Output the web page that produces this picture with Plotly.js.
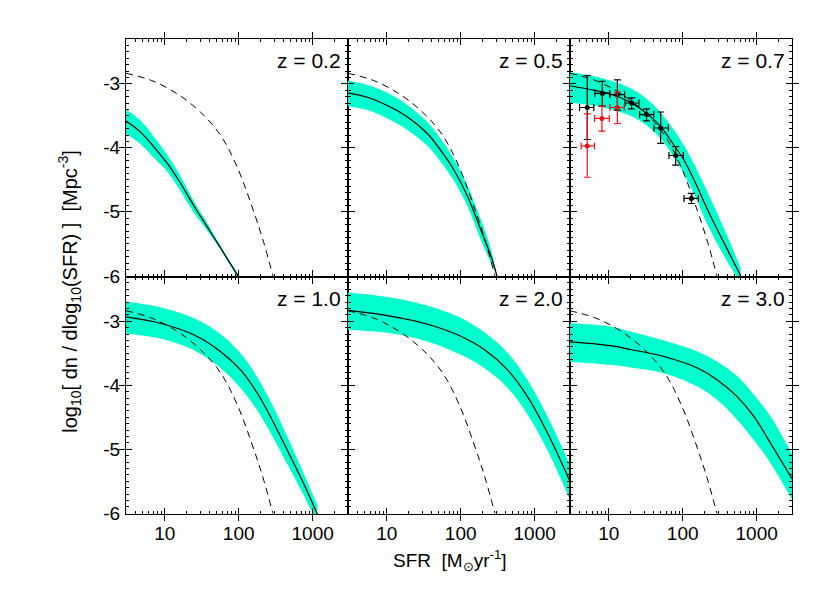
<!DOCTYPE html>
<html>
<head>
<meta charset="utf-8">
<script src="https://cdn.plot.ly/plotly-3.0.1.min.js"></script>
<style>
  html, body { margin: 0; padding: 0; background: #fff; }
  #sfrPlot { width: 830px; height: 593px; }
</style>
</head>
<body>
<div id="sfrPlot"></div>
<script>
// z = 0.2
const sfr02 = [3, 4.69, 7.08, 10.8, 16.3, 24.7, 37.4, 56.6, 100];
const mid02 = [-3.58, -3.75, -3.98, -4.24, -4.55, -4.90, -5.23, -5.56, -6.02];
const hi02  = [-3.40, -3.57, -3.82, -4.11, -4.44, -4.83, -5.17, -5.53, -5.99];
const lo02  = [-3.78, -3.94, -4.15, -4.37, -4.67, -5.01, -5.29, -5.59, -6.05];

// z = 0.5
const sfr05 = [3, 5.49, 10.2, 19.1, 35.6, 53.8, 81.5, 124, 187, 256, 309];
const mid05 = [-3.14, -3.21, -3.34, -3.52, -3.78, -4.04, -4.35, -4.76, -5.28, -5.69, -6.0];
const hi05  = [-2.95, -3.02, -3.14, -3.33, -3.60, -3.86, -4.18, -4.60, -5.12, -5.58, -6.0];
const lo05  = [-3.35, -3.41, -3.54, -3.72, -3.97, -4.22, -4.52, -4.92, -5.44, -5.80, -6.0];

// z = 0.7
const sfr07 = [3, 6.3, 10.6, 19.8, 33.3, 50.4, 76.2, 104, 142, 239, 402, 608];
const mid07 = [-3.03, -3.10, -3.16, -3.29, -3.47, -3.67, -3.96, -4.19, -4.50, -5.07, -5.59, -6.0];
const hi07  = [-2.82, -2.88, -2.95, -3.07, -3.24, -3.45, -3.72, -3.96, -4.25, -4.80, -5.38, -5.88];
const lo07  = [-3.29, -3.34, -3.40, -3.50, -3.66, -3.86, -4.15, -4.40, -4.72, -5.30, -5.78, -6.12];

// z = 1.0
const sfr10 = [3, 8.7, 24.7, 56.6, 106, 178, 269, 453, 759, 1153];
const mid10 = [-2.93, -3.03, -3.21, -3.47, -3.76, -4.12, -4.49, -5.01, -5.54, -6.01];
const hi10  = [-2.69, -2.78, -2.95, -3.20, -3.50, -3.87, -4.25, -4.80, -5.38, -5.87];
const lo10  = [-3.19, -3.27, -3.45, -3.73, -4.04, -4.39, -4.74, -5.23, -5.72, -6.15];

// z = 2.0
const sfr20 = [3, 10.2, 32, 90.6, 208, 430, 803, 1497, 3020];
const mid20 = [-2.83, -2.91, -3.03, -3.21, -3.44, -3.76, -4.18, -4.75, -5.51];
const hi20  = [-2.55, -2.62, -2.74, -2.92, -3.17, -3.49, -3.92, -4.49, -5.25];
const lo20  = [-3.13, -3.18, -3.30, -3.50, -3.73, -4.04, -4.46, -5.02, -5.80];

// z = 3.0
const sfr30 = [3, 10.6, 19.8, 55.7, 158, 294, 548, 921, 1549, 3050];
const mid30 = [-3.32, -3.38, -3.44, -3.55, -3.73, -3.915, -4.18, -4.49, -4.91, -5.47];
const hi30  = [-3.03, -3.08, -3.16, -3.30, -3.47, -3.63, -3.86, -4.15, -4.49, -5.09];
const lo30  = [-3.63, -3.68, -3.72, -3.81, -4.02, -4.23, -4.54, -4.86, -5.22, -5.80];

// local reference function (dashed, same in every panel)
const sfrRef = [3, 6.7, 14.7, 30.3, 56.6, 95.3, 160, 218, 290];
const phiRef = [-2.835, -2.95, -3.155, -3.44, -3.80, -4.30, -5.00, -5.48, -6.0];

// z = 0.7 measurements
const obsSfr   = [5.13, 8.18, 13.1, 20.4, 32.5, 50.4, 80.4, 131];
const obsSfrLo = [4.04, 6.5, 10.4, 16.6, 26.2, 40.8, 65.2, 104];
const obsSfrHi = [6.3, 10.3, 16.4, 25.6, 40.8, 64, 102, 163];
const obsPhi   = [-3.37, -3.15, -3.17, -3.30, -3.48, -3.69, -4.12, -4.79];
const obsPhiHi = [-2.87, -2.96, -2.94, -3.22, -3.39, -3.44, -3.98, -4.71];
const obsPhiLo = [-3.87, -3.35, -3.41, -3.39, -3.58, -3.93, -4.27, -4.87];

const redSfr   = [5.13, 8.1, 13.1];
const redSfrLo = [4.25, 6.44, 10.4];
const redSfrHi = [6.44, 10.2, 16.2];
const redPhi   = [-3.97, -3.54, -3.37];
const redPhiHi = [-3.47, -3.35, -3.13];
const redPhiLo = [-4.46, -3.74, -3.62];

const zLabels = ['z = 0.2', 'z = 0.5', 'z = 0.7', 'z = 1.0', 'z = 2.0', 'z = 3.0'];
const yTickVals = [-6, -5, -4, -3];
const yTickText = ['-6', '-5', '-4', '-3'];

const panels = [
    [sfr02, mid02, hi02, lo02],
    [sfr05, mid05, hi05, lo05],
    [sfr07, mid07, hi07, lo07],
    [sfr10, mid10, hi10, lo10],
    [sfr20, mid20, hi20, lo20],
    [sfr30, mid30, hi30, lo30]
];

const fontFamily = '"Liberation Sans", Arial, Helvetica, sans-serif';
const bandColor = 'rgb(0,255,204)';
const xRange = [Math.log10(3), Math.log10(3000)];
const yRange = [-6.01, -2.3];

// minor tick positions (2..9 per decade, every 0.1 in y)
let xMinor = [];
[1, 10, 100, 1000].forEach(function (dec) {
    for (let m = 2; m <= 9; m++) {
        if (m * dec >= 3 && m * dec <= 3000) xMinor.push(m * dec);
    }
});
let yMinor = [];
for (let k = -60; k <= -23; k++) {
    if (k % 10 !== 0) yMinor.push(k / 10);
}

let data = [];
let layout = {
    width: 830,
    height: 593,
    margin: { l: 126, r: 38, t: 39, b: 79 },
    paper_bgcolor: 'white',
    plot_bgcolor: 'white',
    showlegend: false,
    font: { family: fontFamily, size: 19, color: 'black' },
    annotations: []
};

panels.forEach(function (p, i) {
    const [sfr, mid, hi, lo] = p;
    const xa = i === 0 ? 'x' : 'x' + (i + 1);
    const ya = i === 0 ? 'y' : 'y' + (i + 1);
    const xm = 'x' + (i + 7);
    const ym = 'y' + (i + 7);
    const row = i < 3 ? 0 : 1;
    const col = i % 3;
    const xDomain = [col / 3, (col + 1) / 3];
    const yDomain = row === 0 ? [0.5, 1] : [0, 0.5];

    // cyan band: upper edge, then lower edge filled up to it
    data.push({
        x: sfr, y: hi,
        xaxis: xa, yaxis: ya,
        type: 'scatter', mode: 'lines',
        line: { width: 0, color: bandColor, shape: 'spline', smoothing: 1 },
        hoverinfo: 'skip'
    });
    data.push({
        x: sfr, y: lo,
        xaxis: xa, yaxis: ya,
        type: 'scatter', mode: 'lines',
        fill: 'tonexty', fillcolor: bandColor,
        line: { width: 0, color: bandColor, shape: 'spline', smoothing: 1 },
        hoverinfo: 'skip'
    });

    // dashed reference
    data.push({
        x: sfrRef, y: phiRef,
        xaxis: xa, yaxis: ya,
        type: 'scatter', mode: 'lines',
        line: { color: 'black', width: 1, dash: '7px,5px', shape: 'spline', smoothing: 1 }
    });

    // best fit
    data.push({
        x: sfr, y: mid,
        xaxis: xa, yaxis: ya,
        type: 'scatter', mode: 'lines',
        line: { color: 'black', width: 1.2, shape: 'spline', smoothing: 1 }
    });

    // empty traces so the minor-tick overlay axes get drawn
    data.push({ x: [], y: [], xaxis: xm, yaxis: ya, type: 'scatter', mode: 'lines', hoverinfo: 'skip' });
    data.push({ x: [], y: [], xaxis: xa, yaxis: ym, type: 'scatter', mode: 'lines', hoverinfo: 'skip' });

    const axKey = i === 0 ? '' : String(i + 1);
    layout['xaxis' + axKey] = {
        domain: xDomain,
        anchor: ya,
        type: 'log',
        range: xRange,
        dtick: 1,
        exponentformat: 'none',
        showticklabels: row === 1,
        ticks: 'inside', ticklen: 6, tickwidth: 1, tickcolor: 'black',
        ticklabelstandoff: 2,
        showline: true, linecolor: 'black', linewidth: 1, mirror: 'allticks',
        showgrid: false, zeroline: false,
        tickfont: { family: fontFamily, size: 19, color: 'black' }
    };
    layout['yaxis' + axKey] = {
        domain: yDomain,
        anchor: xa,
        range: yRange,
        tickmode: 'array', tickvals: yTickVals, ticktext: yTickText,
        showticklabels: col === 0,
        ticks: 'inside', ticklen: 6, tickwidth: 1, tickcolor: 'black',
        ticklabelstandoff: 1,
        showline: true, linecolor: 'black', linewidth: 1, mirror: 'allticks',
        showgrid: false, zeroline: false,
        tickfont: { family: fontFamily, size: 19, color: 'black' }
    };

    // minor ticks
    layout['xaxis' + (i + 7)] = {
        domain: xDomain, anchor: ya, overlaying: xa,
        type: 'log', range: xRange,
        tickmode: 'array', tickvals: xMinor,
        showticklabels: false,
        ticks: 'inside', ticklen: 3, tickwidth: 1, tickcolor: 'black',
        showline: false, mirror: 'allticks',
        showgrid: false, zeroline: false
    };
    layout['yaxis' + (i + 7)] = {
        domain: yDomain, anchor: xa, overlaying: ya,
        range: yRange,
        tickmode: 'array', tickvals: yMinor,
        showticklabels: false,
        ticks: 'inside', ticklen: 3, tickwidth: 1, tickcolor: 'black',
        showline: false, mirror: 'allticks',
        showgrid: false, zeroline: false
    };

    layout.annotations.push({
        text: zLabels[i],
        xref: xa + ' domain', yref: ya + ' domain',
        x: 1, y: 1, xanchor: 'right', yanchor: 'top',
        xshift: -5, yshift: -8,
        showarrow: false,
        font: { family: fontFamily, size: 21, color: 'black' }
    });
});

// data points at z = 0.7
data.push({
    x: obsSfr, y: obsPhi,
    xaxis: 'x3', yaxis: 'y3',
    type: 'scatter', mode: 'markers',
    marker: { color: 'black', size: 5 },
    error_y: { type: 'data', symmetric: false,
        array: obsPhiHi.map((v, k) => v - obsPhi[k]),
        arrayminus: obsPhiLo.map((v, k) => obsPhi[k] - v),
        color: 'black', thickness: 1.2, width: 3.5 },
    error_x: { type: 'data', symmetric: false,
        array: obsSfrHi.map((v, k) => v - obsSfr[k]),
        arrayminus: obsSfrLo.map((v, k) => obsSfr[k] - v),
        color: 'black', thickness: 1.2, width: 3.5 }
});
data.push({
    x: redSfr, y: redPhi,
    xaxis: 'x3', yaxis: 'y3',
    type: 'scatter', mode: 'markers',
    marker: { color: 'rgb(235,20,20)', size: 5 },
    error_y: { type: 'data', symmetric: false,
        array: redPhiHi.map((v, k) => v - redPhi[k]),
        arrayminus: redPhiLo.map((v, k) => redPhi[k] - v),
        color: 'rgb(235,20,20)', thickness: 1.2, width: 3.5 },
    error_x: { type: 'data', symmetric: false,
        array: redSfrHi.map((v, k) => v - redSfr[k]),
        arrayminus: redSfrLo.map((v, k) => redSfr[k] - v),
        color: 'rgb(235,20,20)', thickness: 1.2, width: 3.5 }
});

// shared axis titles
layout.annotations.push({
    text: 'log<sub>10</sub>[ dn / dlog<sub>10</sub>(SFR) ]&nbsp;&nbsp;[Mpc<sup>-3</sup>]',
    xref: 'paper', yref: 'paper',
    x: -0.084, y: 0.468, textangle: -90,
    xanchor: 'center', yanchor: 'middle',
    showarrow: false,
    font: { family: fontFamily, size: 20, color: 'black' }
});
layout.annotations.push({
    text: 'SFR&nbsp;&nbsp;[M<sub>⊙</sub>yr<sup>-1</sup>]',
    xref: 'paper', yref: 'paper',
    x: 0.487, y: -0.098,
    xanchor: 'center', yanchor: 'middle',
    showarrow: false,
    font: { family: fontFamily, size: 19, color: 'black' }
});

Plotly.newPlot('sfrPlot', data, layout, { staticPlot: true, displayModeBar: false });
</script>
</body>
</html>
